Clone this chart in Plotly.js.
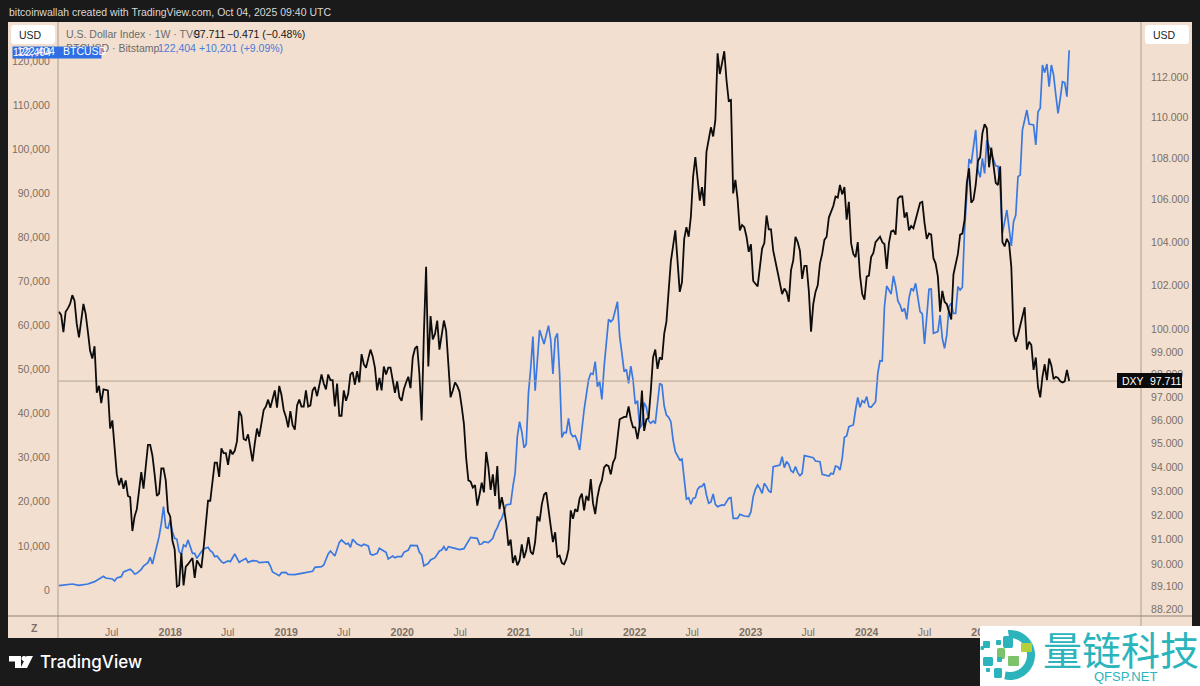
<!DOCTYPE html>
<html>
<head>
<meta charset="utf-8">
<script src="https://cdn.plot.ly/plotly-3.0.1.min.js"></script>
<style>html,body{margin:0;padding:0;background:#1a1a1a;overflow:hidden}#chart{width:1200px;height:686px}</style>
</head>
<body>
<div id="chart"></div>
<script>
// Weekly bars, counted from the first visible bar
const firstBar = '2017-01-16';

const dxyWeeks = [0,1,2,3,4,5,6,7,8,9,11,12,13,14,15,16,17,18,19,20,22,23,24,25,26,27,28,29,30,31,32,33,34,35,36,37,38,39,40,41,42,43,44,45,46,47,48,49,50,51,52,53,54,55,56,57,58,60,61,62,64,65,66,67,68,69,70,71,72,73,74,75,76,77,78,79,80,81,82,83,84,85,86,87,88,89,90,92,93,94,95,97,98,99,100,101,102,103,104,105,106,107,108,109,110,111,112,113,114,115,116,118,119,120,121,122,123,124,125,
126,127,128,129,130,131,132,133,134,135,136,137,138,139,140,141,142,143,144,145,146,147,148,149,150,151,152,153,154,155,156,157,158,159,160,161,162,163,164,165,166,167,168,169,170,171,172,173,174,175,176,177,178,179,180,181,182,183,184,185,186,187,188,189,190,191,192,193,194,195,196,197,198,199,200,201,202,203,204,205,206,207,208,209,210,211,212,213,214,215,216,217,218,219,220,221,222,223,224,225,226,227,228,229,230,231,232,233,234,235,236,237,238,239,240,241,242,243,244,245,246,247,248,249,250,
252,254,255,256,257,258,259,260,261,262,263,264,265,266,267,268,269,270,271,
272,273,274,275,277,278,279,280,281,282,283,284,285,286,287,288,289,290,291,292,293,294,295,296,297,298,299,300,301,302,303,304,305,306,307,308,309,310,311,312,313,314,316,317,318,319,320,321,323,325,326,327,328,329,330,331,332,333,334,335,336,337,338,339,340,341,342,343,344,345,346,347,348,349,350,351,352,353,354,355,356,357,358,359,
360,361,362,363,364,365,366,367,369,370,371,372,373,374,375,376,377,378,379,380,381,382,383,384,385,386,387,388,389,390,391,392,393,394,395,396,397,398,399,400,401,402,403,404,405,406,407,408,409,410,411,412,413,414,415,416,417,418,419,420,421,422,423,424,425,426,427,428,429,430,431,434,435,436,437,438,439,440,441,442,443,444,445,446,447,448,449,450,451,452,453,454];
const dxyValues = [100.8,100.65,99.88,100.8,100.95,101.15,101.55,101.3,100.25,99.65,101.15,100.7,99.9,99.05,98.7,99.25,97.2,97.5,96.75,97.35,97.3,95.65,96.0,94.7,93.7,93.25,93.55,93.1,93.45,92.8,92.75,91.35,91.95,92.25,93.15,93.8,93.1,94.0,94.95,94.95,94.5,93.7,92.8,92.9,93.95,93.95,93.45,92.15,91.95,90.95,90.6,89.1,89.15,90.45,89.15,89.9,90.0,90.25,89.45,90.15,89.85,90.65,91.6,92.6,92.6,93.45,94.2,94.2,93.6,94.8,94.6,94.6,94.1,94.75,94.55,94.7,95.1,96.4,96.2,95.2,95.15,95.4,94.75,94.25,95,95.65,95.3,96.45,96.6,96.9,96.55,97.3,96.55,97.5,97.1,96.45,96.15,95.7,96.4,95.8,95.6,96.65,96.9,96.6,96.6,97.3,96.6,96.65,97.3,97.45,97.05,98,97.6,97.35,98,97.75,97.75,96.6,97.6,
96.2,96.2,97.3,96.85,97.15,98.0,98.1,97.55,98.15,97.65,98.9,98.45,98.3,98.7,99.1,98.8,98.3,97.3,97.85,97.3,98.35,98.0,98.3,98.3,97.65,97.2,97.7,97.0,96.85,97.35,97.65,97.9,97.4,98.75,99.15,99.25,98.0,96.0,99.8,102.85,98.35,100.6,99.55,99.8,100.4,99.1,99.75,100.4,99.95,98.3,97,97.3,97.65,97.5,97.25,96.6,95.85,94.4,93.45,93.4,93.15,93.25,92.4,92.85,93.35,92.95,94.65,94,93.05,93.7,92.8,94.05,92.25,92.75,92.3,91.65,90.75,91,90.05,90.35,89.95,90.15,90.8,90.25,90.55,91.1,90.5,90.4,90.9,91.95,91.75,92.45,92.85,92.95,92.15,91.55,90.9,91.3,90.3,90.35,90.05,90,90.2,90.6,92.2,91.85,92.25,92.15,92.7,92.9,92.2,92.8,92.6,93.5,92.5,92.05,92.75,93.2,93.45,94,94.1,94.05,93.7,94.2,94.4,
96.05,96.15,96.15,96.6,96.05,95.7,95.7,95.2,95.8,97.3,95.55,96.05,96.1,97.3,98.75,99.1,98.25,98.75,98.65,
99.8,100.35,101.75,103.1,104.55,103.3,101.7,102.15,104.15,104.7,104.25,105.2,107.1,108.05,106.95,105.95,106.6,105.7,108.3,108.9,109.5,109.05,109.85,113.2,112.15,112.7,113.3,111.85,110.8,110.85,106.3,106.95,106,104.55,104.8,104.7,104.25,103.55,103.9,102.2,102.05,101.95,103.7,103.95,105.25,104.6,104.6,103.6,102.6,101.6,101.85,101.7,101.25,102.7,103.15,104.25,104,103.6,102.3,102.9,102.9,101.75,99.9,101.15,101.7,102,103,103.45,104.1,104.25,105.15,105.45,105.7,106.15,106.1,106.7,106.25,106.6,105.05,105.9,103.95,103.45,103.3,104,
102.45,101.6,101.35,102.4,102.45,103.3,103.5,104,104.25,104,103.9,102.75,103.95,104.5,104.55,104.35,106.05,106.15,106.15,105.15,105.4,104.55,104.75,104.65,105,105.45,105.85,105.9,104.9,104.15,104.4,104.35,103.25,103,102.4,100.8,101.75,101.25,101.15,100.85,100.45,102.5,103.05,103.45,104.35,104.4,105.05,106.8,107.5,105.85,106,106.7,107.85,108.05,109.2,109.65,109.45,107.55,108.5,107.75,106.8,106.7,107.6,104,103.8,104.15,103.95,102.85,99.8,99.45,99.75,101,99.1,99.45,99.3,98.2,98.75,97.45,97,97.9,98.45,97.75,98.7,98.4,97.8,97.9,97.85,97.7,97.65,97.7,98.2,97.711];

const btcWeeks = [0,6,9,13,16,18,20,21,24,25,26,28,29,32,33,34,35,37,38,40,41,42,44,45,46,47,48,49,50,51,52,53,54,55,56,57,58,60,61,62,64,65,67,68,69,70,71,73,74,76,77,79,81,84,85,87,89,90,94,95,96,99,100,102,103,106,109,113,114,115,118,119,121,122,124,126,
127,129,130,131,132,134,136,137,139,140,141,143,144,146,147,148,149,150,151,152,154,155,157,158,161,162,163,164,166,167,169,171,172,173,174,175,178,180,182,183,185,188,189,190,191,193,195,196,197,198,199,201,203,204,205,206,207,208,209,210,211,212,213,214,215,216,218,220,221,222,223,224,225,226,227,228,229,230,231,232,233,234,236,238,239,240,241,242,243,244,245,247,248,249,251,
252,253,254,255,256,257,258,259,260,261,262,263,264,265,266,267,268,269,270,271,272,273,274,275,276,277,278,279,280,281,282,283,284,285,286,287,288,289,290,291,292,293,294,295,296,298,299,301,302,303,305,306,308,310,311,312,313,314,315,316,317,318,319,320,321,323,324,325,326,327,328,329,330,331,332,333,334,335,337,339,340,342,343,345,346,347,348,349,350,351,352,353,354,355,357,358,359,360,361,362,363,364,365,
367,368,369,370,371,372,374,375,376,377,378,379,380,381,382,383,384,385,387,388,389,391,392,393,395,396,397,398,399,400,401,402,403,404,405,406,407,408,409,410,412,413,414,415,416,417,418,419,420,421,422,423,424,426,428,429,430,431,432,433,435,436,438,439,440,441,442,443,444,445,446,447,448,449,450,451,452,453,454];
const btcValues = [980,1360,1060,1360,1890,2420,3100,2720,2500,2040,2720,3020,4080,4690,4310,3630,3780,4690,5440,6200,7410,5900,9830,12100,15120,18900,14200,14000,15880,13230,11720,11490,8690,8160,10200,9830,11340,8320,8320,7180,8690,9300,9680,8920,8540,7560,7710,6430,6120,6580,6430,8160,6270,7180,6270,6650,6580,6200,6350,5440,4080,3250,3930,4010,3550,3480,3780,4080,4230,5140,5290,5670,8160,8850,7710,10810,
11340,10430,10580,9680,11490,10430,9980,10360,9980,8160,7940,8320,9450,8850,8540,7030,7330,7710,7330,7560,7560,8540,9070,10130,10050,8540,7940,5440,6050,6800,7330,8850,9070,9830,8920,9830,9450,9150,9370,10210,11940,11720,10360,10430,10960,10740,11720,13230,14140,15500,16250,19280,19500,23440,26460,34780,38180,35900,32280,33040,44600,50270,57460,45200,52160,58970,55790,59950,56700,48990,57080,58210,49140,34620,35760,35680,38930,35530,34780,35000,33790,31750,40820,47630,49140,48910,51790,46120,47250,43240,50650,61390,60860,61390,65390,
57460,53680,49520,50050,46870,50800,47630,42180,42940,36670,37420,42490,41430,38400,37800,38330,37800,42340,46870,46490,41730,39690,39160,38180,34020,31370,30240,29480,29710,24950,20640,20940,19430,20790,20940,22830,23440,23510,24190,21550,19660,19960,21770,19430,18900,19280,19200,20790,20940,16250,16250,17160,16780,16630,17770,21170,22830,23810,23060,21920,24190,23440,22450,22080,27970,28200,28350,30240,27750,29110,28500,27060,26690,27970,26610,25930,26460,30470,30240,30010,29260,29110,26230,25930,25860,26460,26310,28120,27970,27220,29860,34620,34930,37040,37420,40820,43700,41430,42940,42490,43850,41580,41430,
42710,49140,52010,51940,64260,68950,67130,71220,68950,65620,64640,63130,63880,61390,66150,68420,67890,69550,63130,62600,55790,68190,68270,58210,58590,62370,57080,54810,57830,64260,65020,62750,62750,68800,68040,68650,81650,89960,97750,96770,104330,95260,93590,97900,94500,102060,100550,99000,97150,96160,96160,91480,80890,86180,78020,83540,85050,93740,94120,104330,108860,105690,105460,100930,108480,109240,119070,117330,119290,114160,119070,116800,112270,108110,111510,115290,115060,111890,122404];

const xTickDates = ['2017-07-01','2018-01-01','2018-07-01','2019-01-01','2019-07-01','2020-01-01','2020-07-01','2021-01-01','2021-07-01','2022-01-01','2022-07-01','2023-01-01','2023-07-01','2024-01-01','2024-07-01','2025-01-01','2025-07-01','2026-01-01'];
const xTickLabels = ['Jul','<b>2018</b>','Jul','<b>2019</b>','Jul','<b>2020</b>','Jul','<b>2021</b>','Jul','<b>2022</b>','Jul','<b>2023</b>','Jul','<b>2024</b>','Jul','<b>2025</b>','Jul','<b>2026</b>'];
const btcTicks = [0,10000,20000,30000,40000,50000,60000,70000,80000,90000,100000,110000,120000];
const dxyTicks = [88.2,89.1,90,91,92,93,94,95,96,97,98,99,100,102,104,106,108,110,112];
const dxyTickLabels = ['88.200','89.100','90.000','91.000','92.000','93.000','94.000','95.000','96.000','97.000','98.000','99.000','100.000','102.000','104.000','106.000','108.000','110.000','112.000'];

const PEACH = '#f2dfcf', DARK = '#1a1a1a', TICK = '#7b6f66', BLUE = '#3a79e2', FONT = 'Liberation Sans, Arial, sans-serif';
const L = 58, R = 1141, T = 22, B = 616;
const X = p => (p - L) / (R - L);
const Y = p => (B - p) / (B - T);
const toDate = w => new Date(Date.parse(firstBar + 'T00:00:00Z') + w * 7 * 864e5).toISOString().slice(0, 10);
const xRange = ['2017-01-13', '2026-05-13'];

const rect = (x0, y0, x1, y1, fill, layer) => ({type: 'rect', xref: 'paper', yref: 'paper', x0: X(x0), x1: X(x1), y0: Y(y1), y1: Y(y0), fillcolor: fill, line: {width: 0}, layer: layer || 'above'});
const vline = (x, y0, y1, c) => ({type: 'line', xref: 'paper', yref: 'paper', x0: X(x), x1: X(x), y0: Y(y0), y1: Y(y1), line: {color: c, width: 1}, layer: 'above'});
const hline = (x0, x1, y, c) => ({type: 'line', xref: 'paper', yref: 'paper', x0: X(x0), x1: X(x1), y0: Y(y), y1: Y(y), line: {color: c, width: 1}, layer: 'above'});
const poly = (pts, fill) => ({type: 'path', xref: 'paper', yref: 'paper', path: 'M' + pts.map(q => X(q[0]).toFixed(5) + ' ' + Y(q[1]).toFixed(5)).join(' L') + ' Z', fillcolor: fill, line: {width: 0}, layer: 'above'});
const rrect = (x0, y0, x1, y1, r, fill) => {
  const pts = [];
  [[x1 - r, y0 + r, -90], [x1 - r, y1 - r, 0], [x0 + r, y1 - r, 90], [x0 + r, y0 + r, 180]].forEach(c => {
    for (let a = 0; a <= 90; a += 15) pts.push([c[0] + r * Math.cos((c[2] + a) * Math.PI / 180), c[1] + r * Math.sin((c[2] + a) * Math.PI / 180)]);
  });
  return poly(pts, fill);
};
const ring = (cx, cy, ro, ri, a0, a1, fill) => {
  const pts = [];
  for (let a = a0; a <= a1; a += 6) pts.push([cx + ro * Math.cos(a * Math.PI / 180), cy + ro * Math.sin(a * Math.PI / 180)]);
  for (let a = a1; a >= a0; a -= 6) pts.push([cx + ri * Math.cos(a * Math.PI / 180), cy + ri * Math.sin(a * Math.PI / 180)]);
  return poly(pts, fill);
};
const label = (x, y, text, o) => Object.assign({xref: 'paper', yref: 'paper', x: X(x), y: Y(y), text, showarrow: false, xanchor: 'left', yanchor: 'middle', borderpad: 0,
  font: {family: (o && o.family) || FONT, size: (o && o.size) || 10.5, color: (o && o.color) || '#666', weight: (o && o.weight) || 400}}, o && o.extra);

const TEAL = '#2bb4bb', GREEN = '#7cc36a', LIME = '#b3cf3a';

const shapes = [
  rect(8, 22, 1192, 638, PEACH, 'below'),
  vline(58, 22, 638, '#ad9e90'),
  vline(1141, 22, 638, '#ad9e90'),
  hline(8, 1192, 616, '#8f8175'),
  rrect(11, 25, 55, 44, 3, '#ffffff'),
  rrect(1145, 25, 1189, 44, 3, '#ffffff'),
  rect(1117, 373, 1182, 388, '#0b0b0b'),
  // TradingView mark
  poly([[9, 656], [21, 656], [21, 668], [15, 668], [15, 661.5], [9, 661.5]], '#ffffff'),
  rrect(21.5, 656, 26.5, 661, 2.5, '#ffffff'),
  poly([[26.5, 656], [33, 656], [27, 668], [20.5, 668]], '#ffffff'),
  // watermark
  rect(980, 626, 1200, 686, '#ffffff'),
  ring(1010, 655, 25, 17, -95, 105, TEAL),
  rrect(1032 - 5 - 24, 636, 1032 - 19, 648, 2, TEAL),
  rrect(996, 640, 1001, 645, 1, TEAL),
  rrect(983, 641, 990, 648, 1, TEAL),
  rrect(997, 648, 1005, 659, 2, GREEN),
  rrect(1021, 643, 1032, 652, 1, LIME),
  rrect(983, 657, 993, 666, 1.5, TEAL),
  rrect(1008, 656, 1019, 666, 1, GREEN),
  rrect(997, 657, 1002, 662, 1, TEAL),
  rrect(994, 668, 1002, 678, 1.5, TEAL),
  rrect(986, 668, 990, 672, 1, TEAL),
  rrect(980.5, 646, 984, 650, 1, TEAL)
];

const annotations = [
  label(8, 12, 'bitcoinwallah created with TradingView.com, Oct 04, 2025 09:40 UTC', {color: '#d8d8d8', size: 10.5}),
  label(65, 34, 'U.S. Dollar Index · 1W · TVC', {color: '#6b6b6b'}),
  label(193, 34, '97.711', {color: '#141414', weight: 500}),
  label(226, 34, '−0.471 (−0.48%)', {color: '#141414', weight: 500}),
  label(65, 47.5, 'BTCUSD · Bitstamp', {color: '#6b6b6b'}),
  label(157, 47.5, '122,404', {color: '#4a7bd6'}),
  label(198, 47.5, '+10,201 (+9.09%)', {color: '#4a7bd6'}),
  label(12, 52.5, '122,404', {color: '#ffffff', size: 10.5, extra: {width: 88, height: 10.5, align: 'left', bgcolor: '#2f6fe3', borderpad: 0}}),
  label(16, 51.5, '122,404', {color: '#ffffff', size: 10.5}),
  label(62, 51.5, 'BTCUSD', {color: '#ffffff', size: 10.5}),
  label(18, 34.5, 'USD', {color: '#1c1c1c', size: 10.5}),
  label(1152, 34.5, 'USD', {color: '#1c1c1c', size: 10.5}),
  label(30, 628, '<b>Z</b>', {color: TICK, size: 10.5}),
  label(1121, 380.5, 'DXY', {color: '#ffffff', size: 10.5}),
  label(1149, 380.5, '97.711', {color: '#ffffff', size: 10.5}),
  label(39, 662, 'TradingView', {color: '#ffffff', size: 17, family: 'Inter, Liberation Sans, sans-serif', weight: 500}),
  label(1042, 648, '量链科技', {color: TEAL, size: 39, family: 'Noto Sans CJK SC'}),
  label(1093, 676, 'QFSP.NET', {color: TEAL, size: 13})
];

const data = [
  {x: xRange, y: [97.711, 97.711], xaxis: 'x', yaxis: 'y2', mode: 'lines', line: {color: '#b3a496', width: 1}, hoverinfo: 'skip', showlegend: false},
  {name: 'BTCUSD', x: btcWeeks.map(toDate), y: btcValues, xaxis: 'x', yaxis: 'y', mode: 'lines', line: {color: BLUE, width: 1.7}, showlegend: false},
  {name: 'DXY', x: dxyWeeks.map(toDate), y: dxyValues, xaxis: 'x', yaxis: 'y2', mode: 'lines', line: {color: '#0c0c0c', width: 1.8}, showlegend: false}
];

const layout = {
  width: 1200, height: 686,
  margin: {l: L, r: 1200 - R, t: T, b: 686 - B, pad: 0},
  paper_bgcolor: DARK, plot_bgcolor: 'rgba(0,0,0,0)',
  font: {family: FONT, size: 10.5, color: TICK},
  showlegend: false,
  xaxis: {type: 'date', range: xRange, tickmode: 'array', tickvals: xTickDates, ticktext: xTickLabels, showgrid: false, zeroline: false, showline: false, ticks: 'outside', ticklen: 6, tickcolor: 'rgba(0,0,0,0)', tickangle: 0, tickfont: {size: 10.5, color: TICK, family: FONT}},
  yaxis: {type: 'linear', range: [-5897, 128820], tickmode: 'array', tickvals: btcTicks, tickformat: ',d', showgrid: false, zeroline: false, showline: false, ticks: 'outside', ticklen: 5, tickcolor: 'rgba(0,0,0,0)', tickfont: {size: 10.5, color: TICK, family: FONT}},
  yaxis2: {type: 'log', overlaying: 'y', side: 'right', range: [1.94414, 2.05994], tickmode: 'array', tickvals: dxyTicks, ticktext: dxyTickLabels, showgrid: false, zeroline: false, showline: false, ticks: 'outside', ticklen: 7, tickcolor: 'rgba(0,0,0,0)', tickfont: {size: 10.5, color: TICK, family: FONT}},
  shapes, annotations
};
Plotly.newPlot('chart', data, layout, {staticPlot: true, displayModeBar: false});
</script>
</body>
</html>
